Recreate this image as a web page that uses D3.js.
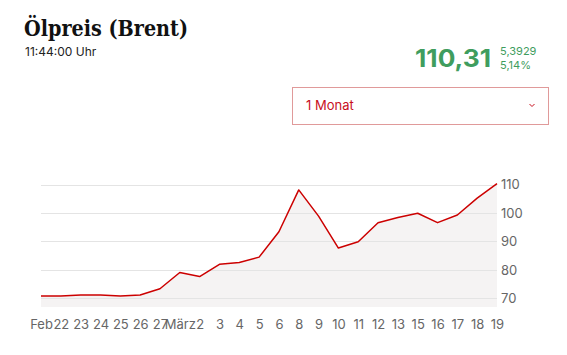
<!DOCTYPE html>
<html>
<head>
<meta charset="utf-8">
<script src="https://cdn.jsdelivr.net/npm/d3@7"></script>
<style>
  body { margin: 0; background: #fff; }
  svg { display: block; }
</style>
</head>
<body>
<svg id="chart"></svg>
<script>
// chart data
var dayLabels = ["Feb", "22", "23", "24", "25", "26", "27", "März", "2", "3", "4", "5", "6",
                 "8", "9", "10", "11", "12", "13", "15", "16", "17", "18", "19"];
var prices = [70.9, 70.9, 71.2, 71.2, 70.9, 71.2, 73.4, 79.1, 77.7, 82.0, 82.6, 84.5,
              93.4, 108.1, 98.9, 87.7, 89.9, 96.6, 98.4, 99.9, 96.6, 99.3, 105.2, 110.31];
var yTicks = [70, 80, 90, 100, 110];

var width = 567, height = 355;
var svg = d3.select("#chart").attr("width", width).attr("height", height);

var x = d3.scalePoint()
    .domain(d3.range(dayLabels.length))
    .range([41, 497]);
var y = d3.scaleLinear()
    .domain([67, 110])
    .range([307, 184.5]);

// header
svg.append("text")
    .attr("x", 24).attr("y", 36)
    .attr("font-family", "DejaVu Serif")
    .attr("font-weight", "bold")
    .attr("font-size", 22)
    .attr("textLength", 164)
    .attr("lengthAdjust", "spacingAndGlyphs")
    .attr("fill", "#111")
    .text("Ölpreis (Brent)");

svg.append("text")
    .attr("x", 25).attr("y", 56)
    .attr("font-family", "Inter, Roboto, sans-serif")
    .attr("font-size", 12)
    .attr("fill", "#222")
    .text("11:44:00 Uhr");

var green = "#3f9d5e";
svg.append("text")
    .attr("x", 415).attr("y", 67)
    .attr("font-family", "Inter, Roboto, sans-serif")
    .attr("font-weight", 700)
    .attr("font-size", 24)
    .attr("textLength", 76)
    .attr("lengthAdjust", "spacingAndGlyphs")
    .attr("fill", green)
    .text("110,31");
svg.append("text")
    .attr("x", 500).attr("y", 55)
    .attr("font-family", "Inter, Roboto, sans-serif")
    .attr("font-size", 11)
    .attr("fill", green)
    .text("5,3929");
svg.append("text")
    .attr("x", 500).attr("y", 69)
    .attr("font-family", "Inter, Roboto, sans-serif")
    .attr("font-size", 11)
    .attr("fill", green)
    .text("5,14%");

// dropdown
svg.append("rect")
    .attr("x", 292.5).attr("y", 87.5)
    .attr("width", 256).attr("height", 37)
    .attr("fill", "#fff")
    .attr("stroke", "#e09a9a");
svg.append("text")
    .attr("x", 306).attr("y", 110)
    .attr("font-family", "Inter, Roboto, sans-serif")
    .attr("font-size", 13)
    .attr("fill", "#c8101e")
    .text("1 Monat");
svg.append("path")
    .attr("d", "M529.5,104 L532,106.5 L534.5,104")
    .attr("fill", "none")
    .attr("stroke", "#c8101e")
    .attr("stroke-width", 1);

// area under line
var area = d3.area()
    .x(function(d, i) { return x(i); })
    .y0(y(67))
    .y1(function(d) { return y(d); });
svg.append("path")
    .datum(prices)
    .attr("d", area)
    .attr("fill", "#f5f3f3");

// gridlines
svg.selectAll(".grid").data(yTicks)
    .enter().append("line")
    .attr("class", "grid")
    .attr("x1", 41).attr("x2", 497)
    .attr("y1", function(d) { return Math.round(y(d)) + 0.5; })
    .attr("y2", function(d) { return Math.round(y(d)) + 0.5; })
    .attr("stroke", "#e4e4e4");

// y axis on the right
var yAxis = d3.axisRight(y).tickValues(yTicks).tickSize(0).tickPadding(4);
var gy = svg.append("g")
    .attr("transform", "translate(497,0)")
    .call(yAxis);
gy.select(".domain").remove();
gy.selectAll("text")
    .attr("font-family", "Inter, Roboto, sans-serif")
    .attr("font-size", 13)
    .attr("fill", "#666");

// x axis
var xAxis = d3.axisBottom(x).tickSize(0).tickPadding(0)
    .tickFormat(function(i) { return dayLabels[i]; });
var gx = svg.append("g")
    .attr("transform", "translate(0,320)")
    .call(xAxis);
gx.select(".domain").remove();
gx.selectAll("text")
    .attr("font-family", "Inter, Roboto, sans-serif")
    .attr("font-size", 13)
    .attr("fill", "#666");

// price line
var line = d3.line()
    .x(function(d, i) { return x(i); })
    .y(function(d) { return y(d); });
svg.append("path")
    .datum(prices)
    .attr("d", line)
    .attr("fill", "none")
    .attr("stroke", "#cc0000")
    .attr("stroke-width", 1.5)
    .attr("stroke-linejoin", "round");
</script>
</body>
</html>
